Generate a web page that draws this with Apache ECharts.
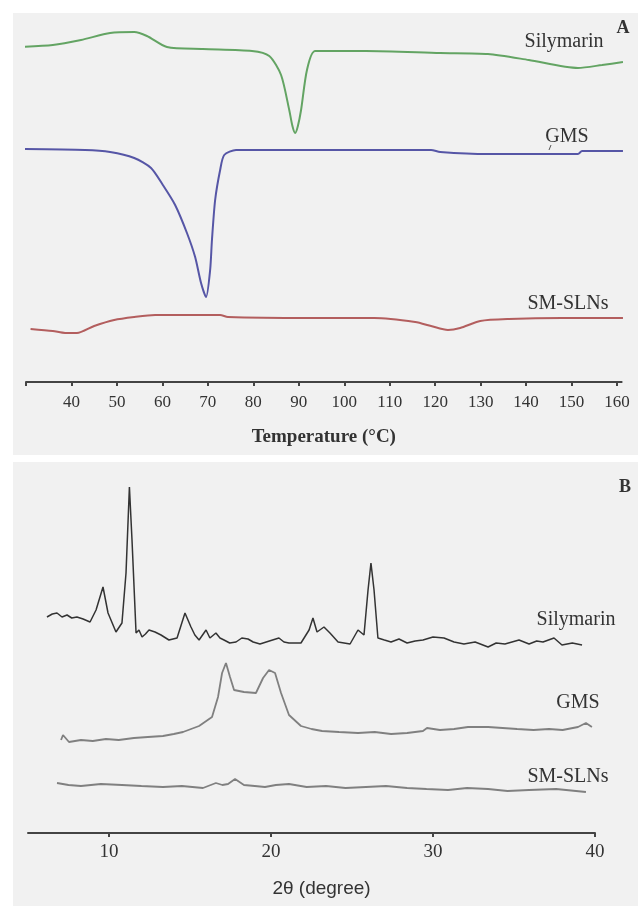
<!DOCTYPE html>
<html>
<head>
<meta charset="utf-8">
<script src="https://cdn.jsdelivr.net/npm/echarts@6/dist/echarts.min.js"></script>
<style>
  html, body { margin: 0; padding: 0; background: #fff; }
  #chart { width: 638px; height: 906px; }
</style>
</head>
<body>
<div id="chart"></div>
<script>
// A: DSC, temperature (°C) vs heat flow (offset, a.u.)
const dscTicks = [30, 40, 50, 60, 70, 80, 90, 100, 110, 120, 130, 140, 150, 160]
const dscLabels = [40, 50, 60, 70, 80, 90, 100, 110, 120, 130, 140, 150, 160]
const dscSilymarinT = [28.2, 35.9, 42.1, 48.5, 53.8, 56.6, 61.0, 68.9, 79.7, 83.5, 86.1, 87.9, 88.6, 89.2, 89.8, 90.5, 91.8, 93.6, 104.8, 121.1, 131.6, 140.6, 151.4, 156.7, 161.3]
const dscSilymarin = [335, 337, 342, 349, 350, 346, 335, 333, 331, 326, 307, 272, 256, 249, 256, 272, 312, 331, 331, 329, 328, 322, 314, 317, 320]
const dscGmsT = [28.7, 43.0, 48.5, 53.8, 57.5, 60.1, 62.8, 65.4, 67.2, 68.5, 69.6, 70.5, 70.9, 71.6, 72.7, 73.6, 76.2, 119.1, 121.1, 131.6, 151.4, 152.3, 161.3]
const dscGms = [233, 232, 230, 224, 214, 197, 177, 149, 125, 99, 85, 112, 142, 182, 212, 227, 232, 232, 230, 228, 228, 231, 231]
const dscSlnT = [31.0, 35.9, 38.6, 41.2, 45.0, 49.4, 53.8, 58.4, 72.7, 74.4, 92.3, 106.6, 115.6, 119.1, 122.8, 125.5, 129.9, 136.2, 147.9, 161.3]
const dscSln = [53, 51, 49, 49, 56, 62, 65, 67, 67, 65, 64, 64, 60, 56, 52, 54, 61, 63, 64, 64]

// B: XRD, 2θ (degree) vs intensity (offset, a.u.)
const xrdTicks = [10, 20, 30, 40]
const xrdSilymarinX = [6.17, 6.5, 6.79, 7.1, 7.41, 7.7, 8.02, 8.4, 8.83, 9.20, 9.63, 9.94, 10.43, 10.80, 11.05, 11.26, 11.42, 11.67, 11.85, 12.04, 12.25, 12.47, 12.84, 13.21, 13.70, 14.20, 14.69, 15.06, 15.3, 15.56, 15.99, 16.23, 16.60, 16.85, 17.10, 17.45, 17.84, 18.2, 18.58, 18.9, 19.32, 19.9, 20.49, 20.8, 21.11, 21.85, 22.35, 22.59, 22.84, 23.27, 23.64, 24.14, 24.88, 25.37, 25.74, 25.99, 26.17, 26.36, 26.60, 27.0, 27.41, 27.9, 28.40, 28.9, 29.38, 30.0, 30.68, 31.3, 31.91, 32.6, 33.40, 33.9, 34.44, 35.31, 35.93, 36.4, 36.79, 37.47, 37.96, 38.6, 39.20]
const xrdSilymarin = [216, 219, 220, 216, 218, 215, 216, 214, 211, 223, 246, 220, 201, 210, 260, 346, 293, 200, 203, 196, 199, 203, 201, 198, 193, 195, 220, 206, 198, 193, 203, 195, 200, 195, 193, 190, 191, 195, 194, 191, 189, 192, 195, 191, 190, 190, 203, 215, 201, 206, 200, 191, 189, 203, 198, 243, 270, 243, 195, 193, 191, 194, 190, 192, 193, 196, 195, 191, 189, 191, 186, 190, 189, 193, 189, 192, 191, 195, 188, 190, 188]
const xrdGmsX = [7.04, 7.16, 7.53, 8.27, 9.0, 9.81, 10.6, 11.54, 12.4, 13.33, 14.0, 14.57, 15.56, 16.36, 16.73, 16.98, 17.22, 17.47, 17.72, 18.33, 19.07, 19.51, 19.88, 20.25, 20.62, 21.11, 21.85, 22.5, 23.15, 24.2, 25.37, 26.4, 27.41, 28.4, 29.38, 29.63, 30.43, 31.3, 32.16, 33.40, 34.3, 35.19, 36.2, 37.16, 38.0, 38.95, 39.44, 39.81]
const xrdGms = [93, 98, 91, 93, 92, 94, 93, 95, 96, 97, 99, 101, 107, 116, 136, 160, 170, 156, 143, 141, 140, 155, 163, 160, 140, 118, 107, 104, 102, 101, 100, 101, 99, 100, 102, 105, 103, 104, 106, 106, 105, 104, 103, 104, 103, 106, 110, 106]
const xrdSlnX = [6.79, 7.5, 8.27, 9.5, 10.80, 12.0, 13.33, 14.5, 15.80, 16.60, 17.0, 17.35, 17.78, 18.33, 19.0, 19.63, 20.3, 21.11, 22.2, 23.40, 24.6, 25.86, 27.1, 28.40, 29.6, 30.93, 32.1, 33.40, 34.6, 35.93, 37.6, 39.44]
const xrdSln = [50, 48, 47, 49, 48, 47, 46, 47, 45, 50, 48, 49, 54, 48, 47, 46, 48, 49, 46, 47, 45, 46, 47, 45, 44, 43, 45, 44, 42, 43, 44, 41]

const zip = (xs, ys) => xs.map((x, i) => [x, ys[i]])

const serif = 'Liberation Serif'
const axisLine = { lineStyle: { color: '#444', width: 2 } }
const axisTick = { length: 4, lineStyle: { color: '#444', width: 2 } }

const chart = echarts.init(document.getElementById('chart'))

const line = (name, data, color, width, axisIndex, smooth) => ({
  name,
  type: 'line',
  data,
  xAxisIndex: axisIndex,
  yAxisIndex: axisIndex,
  showSymbol: false,
  smooth,
  clip: false,
  lineStyle: { color, width },
  silent: true
})

const label = (text, x, y, opts) => ({
  type: 'text',
  x, y,
  style: Object.assign({
    text,
    fill: '#333',
    font: '20px ' + serif,
    textAlign: 'center',
    textVerticalAlign: 'middle'
  }, opts || {})
})

chart.setOption({
  animation: false,
  backgroundColor: '#fff',
  graphic: [
    { type: 'rect', z: -10, shape: { x: 13, y: 13, width: 625, height: 442 }, style: { fill: '#f1f1f1' } },
    { type: 'rect', z: -10, shape: { x: 13, y: 462, width: 625, height: 444 }, style: { fill: '#f1f1f1' } },
    label('A', 623, 28, { font: 'bold 18px ' + serif }),
    label('Silymarin', 564, 42),
    label('GMS', 567, 137),
    { type: 'line', shape: { x1: 551, y1: 145, x2: 549, y2: 150 }, style: { stroke: '#555', lineWidth: 1 } },
    label('SM-SLNs', 568, 304),
    label('B', 625, 487, { font: 'bold 18px ' + serif }),
    label('Silymarin', 576, 620),
    label('GMS', 578, 703),
    label('SM-SLNs', 568, 777)
  ],
  grid: [
    { left: 26, right: 16.4, top: 15, bottom: 524 },
    { left: 28, right: 43, top: 460, bottom: 73 }
  ],
  xAxis: [{
    gridIndex: 0,
    type: 'value',
    min: 30,
    max: 161,
    splitLine: { show: false },
    axisLine,
    axisTick: Object.assign({ customValues: dscTicks }, axisTick),
    axisLabel: { customValues: dscLabels, color: '#333', fontFamily: serif, fontSize: 17, margin: 12 },
    name: 'Temperature (°C)',
    nameLocation: 'middle',
    nameGap: 46,
    nameTextStyle: { color: '#333', fontFamily: serif, fontSize: 19, fontWeight: 'bold' }
  }, {
    gridIndex: 1,
    type: 'value',
    min: 5,
    max: 40,
    splitLine: { show: false },
    axisLine,
    axisTick: Object.assign({ customValues: xrdTicks }, axisTick),
    axisLabel: { customValues: xrdTicks, color: '#333', fontFamily: serif, fontSize: 19, margin: 10 },
    name: '2θ (degree)',
    nameLocation: 'middle',
    nameGap: 46,
    nameTextStyle: { color: '#333', fontFamily: 'Liberation Sans', fontSize: 19, padding: [0, 0, 0, 20] }
  }],
  yAxis: [
    { gridIndex: 0, type: 'value', min: 0, max: 367, show: false },
    { gridIndex: 1, type: 'value', min: 0, max: 373, show: false }
  ],
  series: [
    line('Silymarin', zip(dscSilymarinT, dscSilymarin), '#63a463', 2, 0, 0.25),
    line('GMS', zip(dscGmsT, dscGms), '#5656a6', 2, 0, 0.25),
    line('SM-SLNs', zip(dscSlnT, dscSln), '#b35e5e', 2, 0, 0.25),
    line('Silymarin', zip(xrdSilymarinX, xrdSilymarin), '#333', 1.5, 1, false),
    line('GMS', zip(xrdGmsX, xrdGms), '#808080', 1.8, 1, false),
    line('SM-SLNs', zip(xrdSlnX, xrdSln), '#808080', 1.8, 1, false)
  ]
})
</script>
</body>
</html>
